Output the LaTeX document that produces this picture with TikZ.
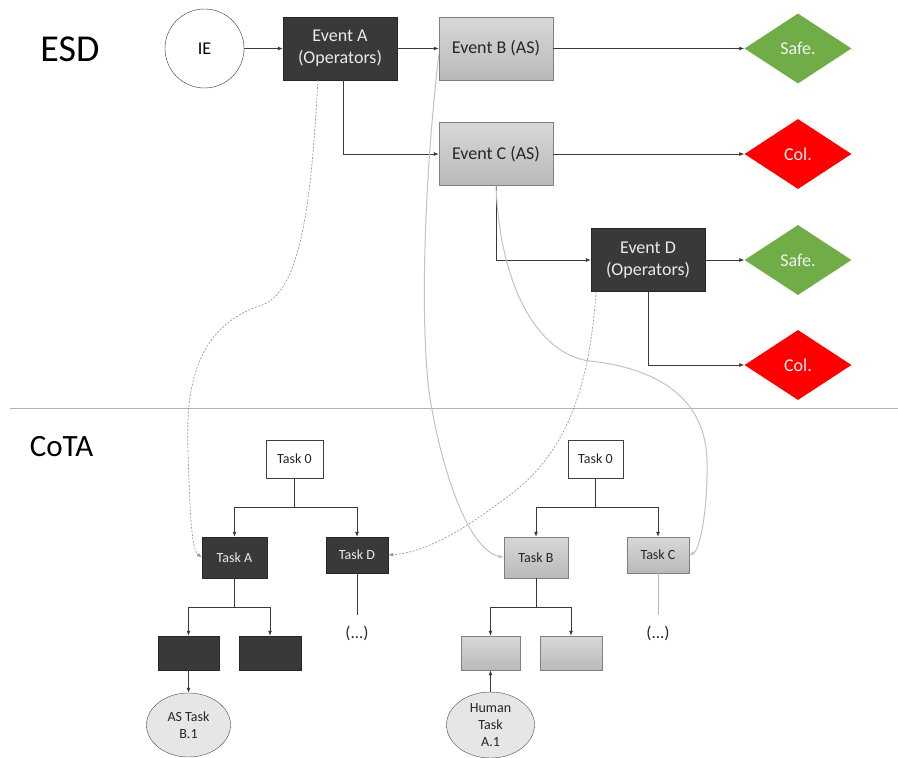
\documentclass[tikz,border=0pt]{standalone}
\usepackage{fontspec}
\setmainfont{Carlito}
\usetikzlibrary{shapes.geometric,arrows.meta}
\definecolor{boxdark}{HTML}{3A3838}
\definecolor{boxgraytop}{HTML}{D8D8D8}
\definecolor{boxgraybot}{HTML}{B9B9B9}
\definecolor{boxedge}{HTML}{7F7F7F}
\definecolor{safegreen}{HTML}{70AD47}
\definecolor{colred}{HTML}{FF0000}
\definecolor{linedark}{HTML}{3A3A3A}
\definecolor{curvegray}{HTML}{C2C2C2}
\definecolor{dashgray}{HTML}{9A9A9A}
\definecolor{tealgray}{HTML}{A8BDBD}
\definecolor{ellfill}{HTML}{E6E6E6}
\begin{document}
\begin{tikzpicture}[x=1pt,y=-1pt,
  evfont/.style={font=\fontsize{18}{22}\selectfont},
  tkfont/.style={font=\fontsize{14}{17}\selectfont},
  darkbox/.style={draw=black!85, fill=boxdark, text=white!92!black, align=center, inner sep=0pt},
  graybox/.style={draw=boxedge, top color=boxgraytop, bottom color=boxgraybot, text=black!85, align=center, inner sep=0pt},
  whitebox/.style={draw=black!75, fill=white, text=black!85, align=center, inner sep=0pt},
  evsize/.style={minimum width=114pt, minimum height=63pt},
  endstate/.style={diamond, minimum width=107pt, minimum height=70pt, inner sep=0pt, text=white!95!black, evfont},
  safe/.style={endstate, fill=safegreen},
  col/.style={endstate, fill=colred},
  smallbox/.style={minimum width=61pt, minimum height=34pt},
  hatchell/.style={ellipse, draw=black!70, fill=ellfill, align=center, inner sep=0pt, tkfont, text=black!85},
  conn/.style={draw=linedark, line width=0.8pt, -{Latex[length=5pt,width=4pt]}},
  plain/.style={draw=linedark, line width=0.8pt},
  softcurve/.style={draw=curvegray, line width=1pt, -{Latex[length=5pt,width=4pt]}},
  dashcurve/.style={draw=dashgray, line width=0.7pt, dash pattern=on 2pt off 1.5pt, -{Latex[length=5pt,width=4pt]}},
]
\useasboundingbox (0,0) rectangle (898,758);

% titles
\node[font=\fontsize{38}{40}\selectfont, inner sep=0pt] (esd) at (70,49.5) {ESD};
\node[font=\fontsize{31}{34}\selectfont, inner sep=0pt] (cota) at (61.5,447) {CoTA};

% separator
\coordinate (sepL) at (10,408);
\coordinate (sepR) at (898,408);
\draw[black!30, line width=0.8pt] (sepL) -- (sepR);

% ESD
\node[circle, draw=black!80, fill=white, minimum size=79pt, inner sep=0pt, evfont] (ie) at (204.5,48.5) {IE};
\node[darkbox, evsize, evfont] (evA) at (340,48.5) {Event A\\(Operators)};
\node[graybox, evsize, evfont] (evB) at (496,48.5) {Event B (AS)};
\node[graybox, evsize, evfont] (evC) at (496,154) {Event C (AS)};
\node[darkbox, evsize, evfont] (evD) at (648,260) {Event D\\(Operators)};
\node[safe] (s1) at (798,48.5) {Safe.};
\node[col] (c1) at (798,154) {Col.};
\node[safe] (s2) at (798,260) {Safe.};
\node[col] (c2) at (798,365) {Col.};

\draw[conn] (ie) -- (evA);
\draw[conn] (evA) -- (evB);
\draw[conn] ([xshift=3pt]evA.south) |- (evC);
\draw[conn] (evB) -- (s1);
\draw[conn] (evC) -- (c1);
\draw[conn] (evC.south) |- (evD);
\draw[conn] (evD) -- (s2);
\draw[conn] (evD.south) |- (c2);

% CoTA left tree
\node[whitebox, minimum width=57pt, minimum height=38pt, tkfont] (t0L) at (294.5,459) {Task 0};
\node[darkbox, minimum width=65pt, minimum height=41pt, tkfont] (tA) at (234.5,557.5) {Task A};
\node[darkbox, minimum width=62pt, minimum height=36pt, tkfont] (tD) at (357,555) {Task D};
\node[darkbox, smallbox] (a1) at (188.5,653) {};
\node[darkbox, smallbox, minimum width=62pt] (a2) at (270,653) {};
\node[hatchell, minimum width=84pt, minimum height=64pt] (asB) at (188.5,725) {AS Task\\B.1};
\node[font=\fontsize{17}{20}\selectfont, text=black!85, inner sep=0pt] (dotsL) at (357,633) {(...)};

\coordinate (jL) at (294.5,507);
\coordinate (kL) at (234.5,607);
\coordinate (eL) at (357,615);
\draw[plain] (t0L) -- (jL);
\draw[conn] (jL) -| (tA);
\draw[conn] (jL) -| (tD);
\draw[plain] (tA) -- (kL);
\draw[conn] (kL) -| (a1);
\draw[conn] (kL) -| (a2);
\draw[conn] (a1) -- (asB);
\draw[plain] (tD) -- (eL);

% CoTA right tree
\node[whitebox, minimum width=55pt, minimum height=38pt, tkfont] (t0R) at (595.5,459) {Task 0};
\node[graybox, minimum width=64pt, minimum height=41pt, tkfont] (tB) at (536,557.5) {Task B};
\node[graybox, minimum width=62pt, minimum height=36pt, tkfont] (tC) at (658,555) {Task C};
\node[graybox, smallbox, minimum width=59pt] (b1) at (490.5,653) {};
\node[graybox, smallbox, minimum width=62pt] (b2) at (571,653) {};
\node[hatchell, minimum width=88pt, minimum height=66pt] (hum) at (490.5,725) {Human\\Task\\A.1};
\node[font=\fontsize{17}{20}\selectfont, text=black!85, inner sep=0pt] (dotsR) at (658,633) {(...)};

\coordinate (jR) at (595.5,507);
\coordinate (kR) at (536,607);
\coordinate (eR) at (658,615);
\draw[plain] (t0R) -- (jR);
\draw[conn] (jR) -| (tB);
\draw[conn] (jR) -| (tC);
\draw[plain] (tB) -- (kR);
\draw[conn] (kR) -| (b1);
\draw[conn] (kR) -| (b2);
\draw[conn] (hum) -- (b1);
\draw[draw=tealgray, line width=0.8pt] (tC) -- (eR);

% cross links
\draw[dashcurve] ([xshift=-22pt]evA.south) .. controls (312,180) and (305,290) .. (262,305)
   .. controls (200,325) and (185,380) .. (188,450) .. controls (190,520) and (192,550) .. (tA.west);
\draw[dashcurve] ([xshift=-52pt]evD.south) .. controls (590,380) and (570,450) .. (510,495)
   .. controls (470,525) and (430,552) .. (tD.east);
\draw[softcurve] ([yshift=-6pt]evB.west) .. controls (422,200) and (420,350) .. (432,410)
   .. controls (445,480) and (470,550) .. (tB.west);
\draw[softcurve] (evC.south) .. controls (500,290) and (540,355) .. (590,361)
   .. controls (645,367) and (705,390) .. (707,460) .. controls (708,510) and (700,550) .. (tC.east);
\end{tikzpicture}
\end{document}
